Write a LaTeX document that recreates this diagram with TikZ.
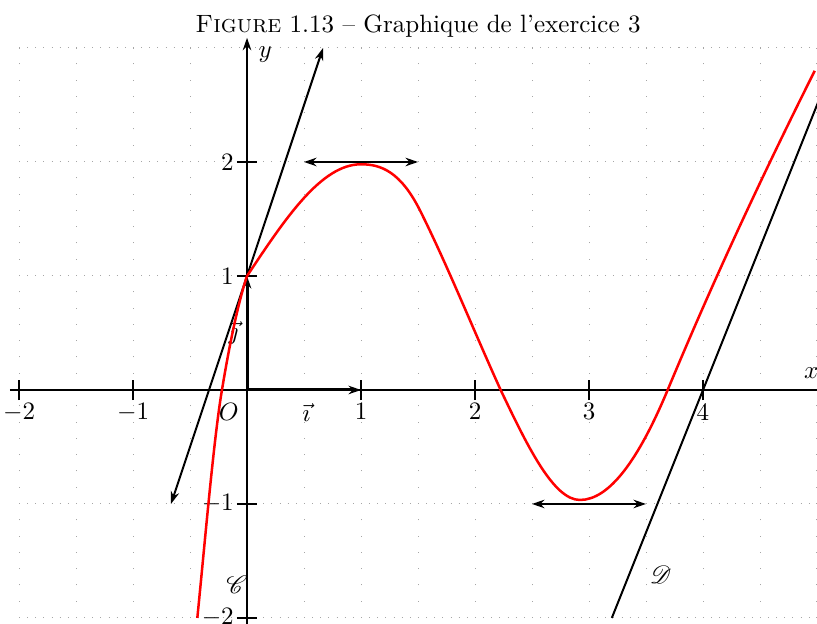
\documentclass[tikz,border=0pt]{standalone}
\usepackage{mathrsfs}
\usetikzlibrary{arrows.meta}
\begin{document}
\begin{tikzpicture}[x=1.6cm,y=1.6cm,
  gridh/.style={gray!70, line width=0.4pt, dash pattern=on 0.4pt off 2.8514pt},
  gridv/.style={gray!70, line width=0.4pt, dash pattern=on 0.4pt off 6.1029pt},
  axisline/.style={black, line width=0.8pt},
  tickline/.style={black, line width=0.6pt},
  arrowhd/.style={-{Stealth[length=5pt,width=3.4pt,inset=1.6pt]}},
  bothhd/.style={{Stealth[length=5pt,width=3.4pt,inset=1.6pt]}-{Stealth[length=5pt,width=3.4pt,inset=1.6pt]}},
  tangentline/.style={black, line width=0.8pt},
  vecline/.style={black, line width=1.2pt},
  curveline/.style={red, line width=1pt},
  lbl/.style={inner sep=1pt, font=\normalsize}]
\useasboundingbox (-2.167,-2.053) rectangle (5.0,3.421);
% grid
\foreach \y in {-2,...,3} \draw[gridh] (-2,\y) -- (5,\y);
\foreach \x in {-2,-1.5,...,5} \draw[gridv] (\x,-2) -- (\x,3);
% title
\node[anchor=base, inner sep=0pt] (title) at (1.5,3.14) {\textsc{Figure} 1.13 -- Graphique de l'exercice 3};
% axes
\coordinate (xa) at (-2.08,0);
\coordinate (xb) at (5.0,0);
\coordinate (ya) at (0,-2.2);
\coordinate (yb) at (0,3.09);
\draw[axisline] (xa) -- (xb);
\draw[axisline, arrowhd] (ya) -- (yb);
% ticks and labels
\foreach \k/\t in {-2/$-2$,-1/$-1$,1/1,2/2,3/3,4/4} {
  \draw[tickline] (\k,-0.088) -- (\k,0.088);
  \node[lbl, anchor=north] (xt\k) at (\k,-0.09) {\t};
}
\foreach \k/\t in {-2/$-2$,-1/$-1$,1/1,2/2} {
  \draw[tickline] (-0.088,\k) -- (0.088,\k);
  \node[lbl, anchor=east] (yt\k) at (-0.09,\k) {\t};
}
\node[lbl] (xl) at (4.95,0.15) {$x$};
\node[lbl] (yl) at (0.16,2.94) {$y$};
\node[lbl] (ol) at (-0.16,-0.19) {$O$};
\node[lbl] (il) at (0.52,-0.2) {$\vec{\imath}$};
\node[lbl] (jl) at (-0.12,0.5) {$\vec{\jmath}$};
\node[lbl] (cl) at (-0.09,-1.71) {$\mathscr{C}$};
\node[lbl] (dl) at (3.63,-1.62) {$\mathscr{D}$};
% vectors
\coordinate (O) at (0,0);
\coordinate (I) at (1,0);
\coordinate (J) at (0,1);
\draw[vecline, arrowhd] (O) -- (I);
\draw[vecline, arrowhd] (O) -- (J);
% tangents
\coordinate (ta) at (-0.667,-1);
\coordinate (tb) at (0.667,3);
\draw[tangentline, bothhd] (ta) -- (tb);
\coordinate (ha) at (0.5,2);
\coordinate (hb) at (1.5,2);
\draw[tangentline, bothhd] (ha) -- (hb);
\coordinate (ma) at (2.5,-1);
\coordinate (mb) at (3.5,-1);
\draw[tangentline, bothhd] (ma) -- (mb);
% line D
\coordinate (da) at (3.2,-2);
\coordinate (db) at (5.02,2.55);
\draw[tangentline] (da) -- (db);
% curve C
\draw[curveline] (-0.436,-2.0)
  .. controls (-0.364,-1.28) and (-0.292,-0.432) .. (-0.22,0)
  .. controls (-0.147,0.44) and (-0.073,0.78) .. (0,1)
  .. controls (0.333,1.5) and (0.65,1.98) .. (1,1.98)
  .. controls (1.173,1.98) and (1.347,1.917) .. (1.52,1.57)
  .. controls (1.755,1.10) and (1.99,0.517) .. (2.225,0)
  .. controls (2.457,-0.487) and (2.688,-0.965) .. (2.92,-0.965)
  .. controls (3.177,-0.965) and (3.433,-0.616) .. (3.69,0)
  .. controls (4.12,1.032) and (4.55,1.94) .. (4.98,2.8);
\end{tikzpicture}
\end{document}
